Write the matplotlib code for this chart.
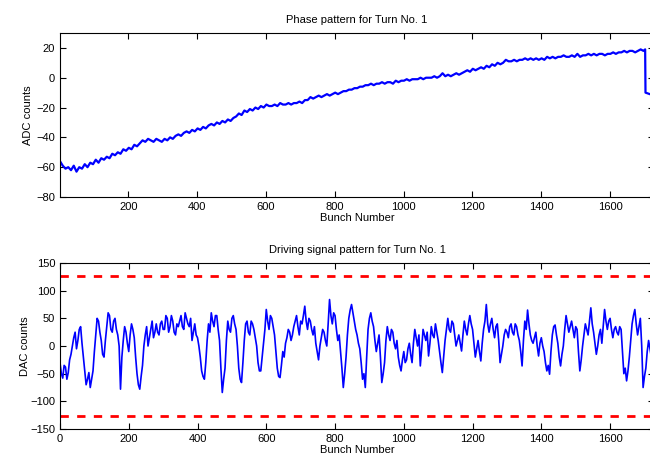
import numpy as np
import matplotlib
matplotlib.use('Agg')
import matplotlib.pyplot as plt

plt.rcParams['font.family'] = ['Liberation Sans', 'DejaVu Sans']
plt.rcParams['font.size'] = 8

# phase pattern (ADC counts), one sample every 8 bunches starting at bunch 1
adc_counts = [
    -56, -59, -61, -60, -62, -59, -63, -60, -61, -58, -60, -57, -58, -55, -57, -54,
    -55, -53, -54, -51, -52, -50, -51, -48, -49, -47, -48, -45, -46, -44, -42, -43,
    -41, -42, -43, -41, -42, -43, -41, -42, -40, -41, -39, -38, -39, -37, -36, -37,
    -35, -36, -34, -35, -33, -34, -32, -31, -32, -30, -31, -29, -30, -28, -29, -27,
    -26, -24, -25, -22, -23, -21, -22, -20, -21, -19, -20, -18, -19, -19, -18, -19,
    -17, -18, -18, -17, -18, -17, -17, -16, -17, -15, -15, -13, -14, -13, -12, -13,
    -12, -11, -12, -11, -10, -11, -10, -9, -9, -8, -8, -7, -7, -6, -6, -5,
    -5, -4, -5, -4, -4, -3, -4, -3, -3, -4, -2, -3, -2, -2, -1, -2,
    -1, -1, -1, 0, -1, 0, 0, 0, 1, 0, 1, 3, 1, 2, 1, 2,
    3, 2, 3, 4, 5, 4, 6, 5, 6, 7, 6, 8, 7, 9, 8, 10,
    9, 10, 12, 11, 11, 12, 11, 12, 12, 13, 12, 13, 12, 13, 12, 13,
    12, 14, 13, 14, 13, 14, 14, 15, 14, 14, 15, 14, 16, 14, 15, 15,
    16, 15, 16, 15, 16, 16, 15, 16, 16, 17, 16, 17, 17, 18, 17, 18,
    18, 17, 18, 19, 18,
]
tail_bunch = [1702, 1703, 1728]
tail_adc = [19, -10, -12]

# driving signal pattern (DAC counts), one sample every 4 bunches from bunch 0
dac_counts = [
    -30, -50, -58, -35, -38, -60, -48, -25, -15, 0, 15, 25, -5, 10, 30, 35,
    5, -20, -45, -70, -60, -48, -75, -60, -45, -10, 20, 50, 45, 25, 10, -15,
    -20, 10, 35, 60, 55, 30, 25, 45, 50, 30, 20, 0, -78, -20, 10, 35,
    25, 5, -10, 20, 40, 30, 15, -20, -50, -70, -78, -55, -35, 0, 20, 35,
    0, 15, 30, 45, 15, 25, 40, 25, 20, 40, 45, 30, 30, 55, 50, 25,
    35, 55, 45, 25, 20, 40, 35, 45, 55, 35, 30, 60, 50, 40, 35, 50,
    10, 25, 40, 20, 15, 0, -20, -45, -55, -60, -30, 10, 40, 25, 60, 45,
    35, 55, 55, 30, 10, -40, -84, -60, -40, 10, 45, 30, 25, 50, 55, 40,
    30, 0, -40, -60, -66, -30, 10, 40, 45, 25, 20, 45, 40, 30, 15, 0,
    -30, -45, -45, -20, 5, 30, 66, 45, 30, 55, 50, 35, 20, -10, -40, -55,
    -57, -35, -10, -20, 5, 15, 30, 25, 10, 20, 35, 45, 55, 35, 20, 45,
    40, 55, 72, 45, 30, 50, 45, 30, 20, 35, 5, -10, -25, 0, 15, 30,
    25, 10, 0, 40, 84, 55, 40, 60, 55, 30, 10, 20, -10, -40, -75, -50,
    -20, 20, 50, 65, 75, 60, 45, 30, 20, 5, -5, -30, -60, -50, -75, -20,
    30, 50, 60, 45, 35, 10, -10, 5, 20, -20, -66, -50, -30, 10, 35, 20,
    10, 30, 25, 5, -5, 10, -20, -35, -45, -25, -10, -30, -25, -5, 5, -15,
    -30, 5, 30, 15, 0, 20, -36, -5, 30, 20, 10, 25, -18, 5, 35, 20,
    15, 40, 25, 10, -10, -30, -48, -20, 10, 30, 50, 30, 25, 45, 40, 20,
    0, 10, 20, 5, -9, 20, 45, 30, 20, 40, 55, 40, 30, 5, -20, -5,
    10, -10, -27, 5, 30, 45, 75, 40, 25, 40, 50, 30, 15, 35, 40, 10,
    -30, -15, 0, 20, 30, 25, 15, 35, 40, 25, 20, 40, 35, 20, 10, -10,
    -36, 10, 45, 30, 65, 40, 20, 10, 5, 15, 25, 0, -18, 5, 15, 0,
    -10, -30, -45, -35, -51, -10, 20, 35, 38, 20, 5, -20, -36, -15, 0, 30,
    55, 40, 25, 35, 45, 30, 15, 35, 30, -10, -45, -25, 0, 20, 40, 30,
    20, 45, 69, 40, 25, 5, -15, 0, 20, 30, 5, 35, 66, 45, 30, 45,
    50, 30, 15, 30, 35, 25, 20, 35, 30, -10, -50, -40, -63, -45, -20, 10,
    40, 55, 66, 40, 20, 35, 50, 0, -75, -55, -40, -10, 10, -5, -20, -35,
    -50,
]
dac_limit = 127

top_bunch = np.r_[1 + 8 * np.arange(len(adc_counts)), tail_bunch]
top_adc = np.r_[adc_counts, tail_adc]
bot_bunch = 4 * np.arange(len(dac_counts))

fig = plt.figure(figsize=(6.5, 4.62), dpi=100)
ax1 = fig.add_axes([0.0923, 0.5736, 0.914, 0.355])
ax2 = fig.add_axes([0.0923, 0.0714, 0.914, 0.3593])

ax1.plot(top_bunch, top_adc, color='blue', lw=1.6)
ax1.set_xlim(1, 1728)
ax1.set_ylim(-80, 30)
ax1.set_xticks(range(200, 1601, 200))
ax1.set_yticks(range(-80, 21, 20))
ax1.set_title('Phase pattern for Turn No. 1', fontsize=8, pad=7)
ax1.set_xlabel('Bunch Number', labelpad=1)
ax1.set_ylabel('ADC counts', labelpad=2)

ax2.plot(bot_bunch, dac_counts, color='blue', lw=1.2)
ax2.axhline(dac_limit, color='red', ls=(0, (3, 3)), lw=2)
ax2.axhline(-dac_limit, color='red', ls=(0, (3, 3)), lw=2)
ax2.set_xlim(0, 1728)
ax2.set_ylim(-150, 150)
ax2.set_xticks(range(0, 1601, 200))
ax2.set_yticks(range(-150, 151, 50))
ax2.set_title('Driving signal pattern for Turn No. 1', fontsize=8, pad=7)
ax2.set_xlabel('Bunch Number', labelpad=1)
ax2.set_ylabel('DAC counts', labelpad=0)

for ax in (ax1, ax2):
    ax.tick_params(direction='in', top=True, right=True, length=4, width=0.8, labelsize=8)
    for s in ax.spines.values():
        s.set_linewidth(0.8)

fig.savefig('out.png', dpi=100)
